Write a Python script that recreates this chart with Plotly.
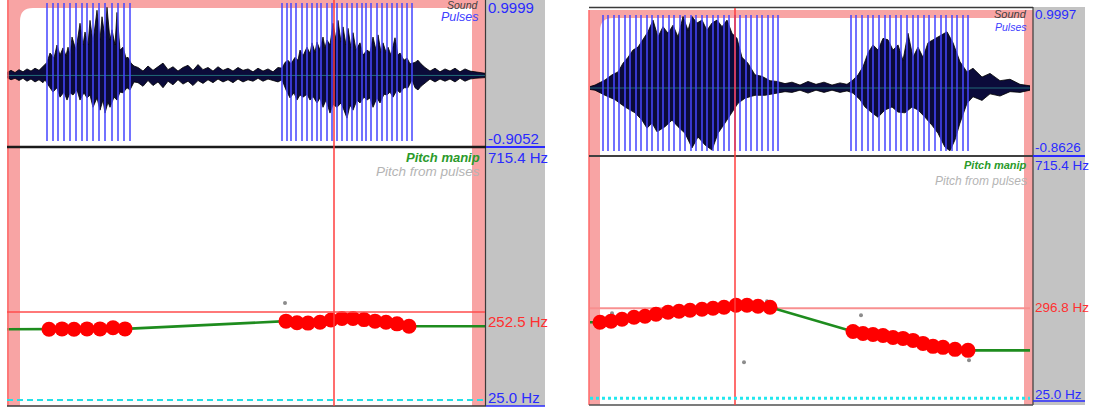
import plotly.graph_objects as go

W, H = 1097, 409

# ======================= DATA: left editor =======================
L_DUR = 478.0                      # visible time window, ms
L_AMP_MAX, L_AMP_MIN = 0.9999, -0.9052
L_HZ_AXIS = [20.0, 676.7]          # pitch axis extent (Hz)
L_HZ_FLOOR = 25.0
L_CURSOR_T = 327
L_CURSOR_HZ = 252.5

L_UP_T = [0, 4, 8, 12, 16, 20, 24, 28, 32, 36,
          40, 43, 47, 50, 53, 56, 59, 61, 63, 65, 69, 73, 76, 78, 81, 83, 86, 90, 93, 95, 98, 100, 103, 105,
          108, 110, 113, 116, 119, 121, 124, 127,
          131, 136, 141, 146, 151, 156, 161, 166, 171, 176, 181, 186, 191, 196, 201, 206, 211, 216, 221, 226,
          231, 236, 241, 246, 251, 256, 261, 266, 271,
          275, 278, 281, 284, 288, 291, 293, 296, 300, 303, 305, 308, 310, 313, 316, 318, 320, 323, 326, 329,
          331, 334, 336, 339, 341, 344, 346, 349, 353, 356, 360, 363, 366, 369, 371, 374, 376, 379, 381, 384,
          388, 391, 393, 397, 400, 403, 405, 408, 411, 414,
          418, 423, 428, 433, 438, 443, 448, 453, 458, 463, 468, 473, 478]
L_UP_A = [0.04, 0.07, 0.04, 0.08, 0.05, 0.09, 0.06, 0.10, 0.07, 0.12,
          0.18, 0.31, 0.24, 0.42, 0.28, 0.38, 0.27, 0.39, 0.28, 0.53, 0.35, 0.72, 0.42, 0.60, 0.42, 0.76, 0.46,
          0.90, 0.49, 0.81, 0.52, 0.94, 0.49, 0.63, 0.42, 0.87, 0.35, 0.39, 0.24, 0.25, 0.17, 0.13,
          0.11, 0.06, 0.13, 0.07, 0.12, 0.17, 0.08, 0.12, 0.06, 0.11, 0.14, 0.07, 0.15, 0.08, 0.11, 0.06, 0.12,
          0.07, 0.10, 0.06, 0.11, 0.07, 0.09, 0.05, 0.10, 0.06, 0.09, 0.05, 0.11,
          0.10, 0.18, 0.21, 0.16, 0.25, 0.21, 0.35, 0.27, 0.39, 0.30, 0.45, 0.32, 0.46, 0.35, 0.53, 0.38, 0.49,
          0.42, 0.72, 0.49, 0.76, 0.46, 0.67, 0.42, 0.65, 0.38, 0.59, 0.35, 0.45, 0.28, 0.35, 0.32, 0.53, 0.35,
          0.56, 0.32, 0.45, 0.32, 0.39, 0.28, 0.52, 0.28, 0.31, 0.21, 0.24, 0.16, 0.17, 0.18, 0.21, 0.16,
          0.11, 0.06, 0.10, 0.05, 0.09, 0.06, 0.10, 0.05, 0.09, 0.06, 0.05, 0.04, 0.03]
L_LO_T = [0, 4, 8, 12, 16, 20, 24, 28, 32, 36,
          38, 41, 46, 50, 53, 57, 60, 63, 66, 70, 73, 77, 80, 83, 86, 90, 93, 96, 98, 101, 103, 107, 110, 113,
          116, 120, 123, 127,
          131, 136, 141, 146, 151, 156, 161, 166, 171, 176, 181, 186, 191, 196, 201, 206, 211, 216, 221, 226,
          231, 236, 241, 246, 251, 256, 261, 266, 271,
          275, 279, 283, 287, 290, 293, 296, 300, 303, 306, 310, 313, 316, 319, 323, 326, 330, 334, 337, 340,
          343, 346, 350, 353, 357, 360, 363, 366, 370, 373, 377, 380, 383, 386, 390, 393, 397, 401, 405, 408,
          411, 414,
          418, 423, 428, 433, 438, 443, 448, 453, 458, 463, 468, 473, 478]
L_LO_A = [-0.03, -0.06, -0.04, -0.07, -0.04, -0.08, -0.05, -0.09, -0.06, -0.10,
          -0.06, -0.13, -0.23, -0.17, -0.30, -0.23, -0.34, -0.24, -0.27, -0.20, -0.34, -0.24, -0.31, -0.27,
          -0.44, -0.31, -0.48, -0.34, -0.52, -0.37, -0.44, -0.30, -0.34, -0.23, -0.24, -0.17, -0.20, -0.09,
          -0.10, -0.15, -0.07, -0.14, -0.09, -0.17, -0.08, -0.13, -0.06, -0.12, -0.08, -0.14, -0.07, -0.11,
          -0.06, -0.10, -0.05, -0.09, -0.06, -0.10, -0.05, -0.09, -0.06, -0.08, -0.04, -0.08, -0.05, -0.07, -0.09,
          -0.06, -0.20, -0.31, -0.24, -0.34, -0.27, -0.30, -0.26, -0.34, -0.29, -0.38, -0.31, -0.44, -0.34,
          -0.52, -0.40, -0.44, -0.38, -0.48, -0.59, -0.41, -0.48, -0.34, -0.38, -0.30, -0.34, -0.31, -0.44,
          -0.31, -0.38, -0.26, -0.27, -0.23, -0.30, -0.20, -0.24, -0.17, -0.17, -0.06, -0.17, -0.20, -0.15,
          -0.10, -0.05, -0.09, -0.05, -0.08, -0.05, -0.09, -0.04, -0.08, -0.05, -0.04, -0.03, -0.03]
L_PULSES = [40, 46, 51, 57, 63, 69, 75, 80, 86, 92, 98, 105, 111, 117, 123,
            275, 280, 284, 289, 295, 300, 305, 310, 314, 320, 325, 330, 335, 340, 345, 350, 355, 359, 364,
            370, 375, 380, 385, 390, 395, 400, 405]
L_PITCH_T = [42, 55, 67, 80, 93, 106, 118,
             279, 290, 301, 313, 324, 335, 346, 357, 368, 379, 390, 402]
L_PITCH_HZ = [208, 209, 208, 209, 209, 212, 209,
              229, 225, 224, 226, 232, 236, 236, 233, 229, 226, 222, 216]
L_PULSE_PITCH_T = [278]
L_PULSE_PITCH_HZ = [276]

# ======================= DATA: right editor =======================
R_DUR = 440.0
R_AMP_MAX, R_AMP_MIN = 0.9997, -0.8626
R_HZ_AXIS = [20.0, 754.0]
R_HZ_FLOOR = 25.0
R_CURSOR_T = 145
R_CURSOR_HZ = 296.8

R_UP_T = [0, 5, 15, 22, 28, 33, 38, 43, 48, 53, 58, 63, 68, 73, 78, 83, 88, 93, 98, 102,
          107, 112, 117, 122, 127, 132, 137, 142, 147, 152, 158, 165, 172, 180, 187, 195,
          202, 210, 218, 226, 234, 242, 250, 257,
          263, 268, 273, 278, 283, 288, 293, 298, 303, 308, 313, 318, 323, 328, 333, 338, 343, 348, 357,
          363, 370, 377, 383, 392, 400, 410, 420, 430, 440]
R_UP_A = [0.02, 0.04, 0.11, 0.18, 0.22, 0.34, 0.42, 0.52, 0.56, 0.66, 0.77, 0.93, 0.70, 0.84, 0.75, 0.86,
          0.70, 0.98, 0.79, 0.98, 0.89, 0.93, 0.79, 0.89, 0.93, 0.84, 0.93, 0.75, 0.68, 0.42, 0.34, 0.18,
          0.16, 0.10, 0.09, 0.06,
          0.08, 0.04, 0.09, 0.05, 0.08, 0.04, 0.07, 0.05,
          0.11, 0.18, 0.29, 0.48, 0.59, 0.52, 0.68, 0.66, 0.52, 0.59, 0.38, 0.75, 0.42, 0.56, 0.42, 0.62,
          0.66, 0.70, 0.77, 0.62, 0.36, 0.22, 0.27, 0.15, 0.20, 0.10, 0.12, 0.05, 0.03]
R_LO_T = [0, 5, 15, 25, 35, 45, 52, 57, 62, 67, 75, 82, 88, 95, 102, 108, 115, 122, 128, 135, 142, 148,
          155, 165, 175, 185, 195,
          202, 210, 218, 226, 234, 242, 250, 257,
          263, 270, 275, 282, 288, 295, 302, 308, 315, 322, 328, 335, 342, 348, 355, 360, 365, 370, 377, 383,
          392, 400, 410, 420, 430, 440]
R_LO_A = [-0.02, -0.03, -0.10, -0.16, -0.26, -0.34, -0.44, -0.55, -0.48, -0.60, -0.53, -0.44, -0.53, -0.62,
          -0.82, -0.67, -0.78, -0.85, -0.62, -0.48, -0.34, -0.21, -0.14, -0.10, -0.10, -0.07, -0.05,
          -0.06, -0.03, -0.07, -0.03, -0.06, -0.03, -0.06, -0.04,
          -0.07, -0.16, -0.26, -0.34, -0.40, -0.30, -0.26, -0.33, -0.34, -0.26, -0.30, -0.40, -0.51, -0.62,
          -0.81, -0.86, -0.71, -0.48, -0.21, -0.12, -0.17, -0.08, -0.11, -0.05, -0.06, -0.03]
R_PULSES = [13, 18, 24, 29, 35, 40, 46, 51, 57, 62, 68, 73, 79, 84, 90, 95, 101, 106, 112, 117, 123, 128,
            134, 139, 145, 150, 156, 161, 167, 172, 178, 183, 188,
            261, 266, 272, 278, 283, 289, 295, 300, 306, 311, 317, 323, 328, 334, 339, 345, 351, 356, 362,
            367, 373, 378]
R_PITCH_T = [10, 21, 32, 44, 55, 66, 78, 89, 100, 112, 123, 134, 146, 157, 168, 180,
             263, 273, 283, 293, 303, 313, 323, 333, 343, 353, 365, 378]
R_PITCH_HZ = [255, 258, 264, 270, 273, 279, 285, 288, 291, 294, 297, 300, 306, 306, 303, 300,
              227, 221, 218, 215, 209, 206, 200, 191, 182, 179, 173, 170]
R_PULSE_PITCH_T = [22, 177, 154, 271, 379]
R_PULSE_PITCH_HZ = [282, 318, 134, 276, 140]

# ---- labels ----
AMP_LABELS_L = ["0.9999", "-0.9052"]
AMP_LABELS_R = ["0.9997", "-0.8626"]
HZ_TOP_LABEL = "715.4 Hz"
HZ_BOTTOM_LABEL = "25.0 Hz"
CURSOR_LABEL_L = "252.5 Hz"
CURSOR_LABEL_R = "296.8 Hz"
NAME_SOUND, NAME_PULSES = "Sound", "Pulses"
NAME_MANIP, NAME_FROMPULSES = "Pitch manip", "Pitch from pulses"

for a, b in [(L_UP_T, L_UP_A), (L_LO_T, L_LO_A), (R_UP_T, R_UP_A), (R_LO_T, R_LO_A),
             (L_PITCH_T, L_PITCH_HZ), (R_PITCH_T, R_PITCH_HZ)]:
    assert len(a) == len(b), (len(a), len(b))


# ======================= figure =======================
def px(x):
    return x / W


def py(y):
    return 1 - y / H


WAVE_FILL = "#0b0b3a"
PULSE_COL = "rgba(70,70,255,0.85)"
PINK = "#f8a4a4"
GREEN = "#1e8c1e"

fig = go.Figure()


def add_editor(xa, ya_w, ya_p, dur, amin, amax, upt, upa, lot, loa, pulses, pt, phz, ppt, pphz):
    fig.add_trace(go.Scatter(x=upt + lot[::-1], y=upa + loa[::-1], fill="toself", fillcolor=WAVE_FILL,
                             mode="lines", line=dict(color="#000000", width=0.8),
                             xaxis=xa, yaxis=ya_w, hoverinfo="skip"))
    fig.add_trace(go.Scatter(x=[0, dur], y=[0, 0], mode="lines",
                             line=dict(color="rgba(40,140,140,0.75)", width=1),
                             xaxis=xa, yaxis=ya_w, hoverinfo="skip"))
    xs, ys = [], []
    for t in pulses:
        xs += [t, t, None]
        ys += [amin, amax, None]
    fig.add_trace(go.Scatter(x=xs, y=ys, mode="lines", line=dict(color=PULSE_COL, width=1.8),
                             xaxis=xa, yaxis=ya_w, hoverinfo="skip"))
    fig.add_trace(go.Scatter(x=[0] + pt + [dur], y=[phz[0]] + phz + [phz[-1]], mode="lines",
                             line=dict(color=GREEN, width=2.6), xaxis=xa, yaxis=ya_p, hoverinfo="skip"))
    fig.add_trace(go.Scatter(x=ppt, y=pphz, mode="markers", marker=dict(color="#8c8c8c", size=4),
                             xaxis=xa, yaxis=ya_p, hoverinfo="skip"))
    fig.add_trace(go.Scatter(x=pt, y=phz, mode="markers",
                             marker=dict(color="#ff0000", size=15, line=dict(width=0)),
                             xaxis=xa, yaxis=ya_p, hoverinfo="skip"))


add_editor("x", "y", "y2", L_DUR, L_AMP_MIN, L_AMP_MAX, L_UP_T, L_UP_A, L_LO_T, L_LO_A, L_PULSES,
           L_PITCH_T, L_PITCH_HZ, L_PULSE_PITCH_T, L_PULSE_PITCH_HZ)
add_editor("x2", "y3", "y4", R_DUR, R_AMP_MIN, R_AMP_MAX, R_UP_T, R_UP_A, R_LO_T, R_LO_A, R_PULSES,
           R_PITCH_T, R_PITCH_HZ, R_PULSE_PITCH_T, R_PULSE_PITCH_HZ)

ax_common = dict(visible=False, showgrid=False, zeroline=False, fixedrange=True)
fig.update_layout(
    xaxis=dict(domain=[px(7), px(485)], range=[0, L_DUR], anchor="y", **ax_common),
    yaxis=dict(domain=[py(141), py(3)], range=[L_AMP_MIN, L_AMP_MAX], anchor="x", **ax_common),
    yaxis2=dict(domain=[py(402), py(148)], range=L_HZ_AXIS, anchor="x", **ax_common),
    xaxis2=dict(domain=[px(590), px(1030)], range=[0, R_DUR], anchor="y3", **ax_common),
    yaxis3=dict(domain=[py(151), py(15)], range=[R_AMP_MIN, R_AMP_MAX], anchor="x2", **ax_common),
    yaxis4=dict(domain=[py(400), py(157)], range=R_HZ_AXIS, anchor="x2", **ax_common),
)

shapes = []


def prect(x0, y0, x1, y1, color, layer="below"):
    shapes.append(dict(type="rect", xref="paper", yref="paper", x0=px(x0), x1=px(x1), y0=py(y1), y1=py(y0),
                       fillcolor=color, line=dict(width=0), layer=layer))


def pline(x0, y0, x1, y1, color, width, layer="above", dash="solid"):
    shapes.append(dict(type="line", xref="paper", yref="paper", x0=px(x0), x1=px(x1), y0=py(y0), y1=py(y1),
                       line=dict(color=color, width=width, dash=dash), layer=layer))


def fillet(cx, cy, r, color):
    path = (f"M {px(cx)},{py(cy + r)} Q {px(cx)},{py(cy)} {px(cx + r)},{py(cy)} "
            f"L {px(cx)},{py(cy)} Z")
    shapes.append(dict(type="path", xref="paper", yref="paper", path=path, fillcolor=color,
                       line=dict(width=0), layer="below"))


# ---- left editor frame ----
prect(486, 0, 545, 406, "#c3c3c3")
prect(7, 0, 486, 8, PINK)
prect(7, 0, 20, 406, PINK)
prect(472, 0, 486, 406, PINK)
fillet(20, 8, 13, PINK)
pline(8, 0, 8, 406, "#ff6a6a", 1.5)
pline(485.5, 0, 485.5, 406, "#3a3a3a", 1.2)
pline(7, 147, 486, 147, "#1a1a1a", 2.5)
pline(7, 406, 486, 406, "#3a3a3a", 1.5)
pline(486, 147, 545, 147, "#2a2aff", 2)
pline(486, 406, 545, 406, "#2a2aff", 1.5)

# ---- right editor frame ----
prect(1033, 7, 1085, 405, "#c3c3c3")
prect(589, 10, 1033, 18, PINK)
prect(589, 10, 600, 405, PINK)
prect(1024, 10, 1033, 405, PINK)
fillet(600, 18, 13, PINK)
pline(589, 10, 589, 405, "#ff6a6a", 1.5)
pline(589, 7.5, 1033, 7.5, "#3a3a3a", 1.5)
pline(1033, 7, 1033, 405, "#3a3a3a", 1.2)
pline(589, 156, 1033, 156, "#404040", 2)
pline(589, 405, 1033, 405, "#505050", 1.5)
pline(1033, 156, 1085, 156, "#2a2aff", 2)
pline(1033, 401, 1085, 401, "#2a2aff", 1.5)

# ---- data-referenced cursor lines ----
shapes.append(dict(type="line", xref="x", yref="paper", x0=L_CURSOR_T, x1=L_CURSOR_T, y0=py(406), y1=1,
                   line=dict(color="#ff3c3c", width=1.5), layer="above"))
shapes.append(dict(type="line", xref="x", yref="y2", x0=0, x1=L_DUR, y0=L_CURSOR_HZ, y1=L_CURSOR_HZ,
                   line=dict(color="#ff4c4c", width=1.5), layer="above"))
shapes.append(dict(type="line", xref="x", yref="y2", x0=0, x1=L_DUR, y0=L_HZ_FLOOR, y1=L_HZ_FLOOR,
                   line=dict(color="#22e2e8", width=2, dash="6px,4px"), layer="above"))
shapes.append(dict(type="line", xref="x2", yref="paper", x0=R_CURSOR_T, x1=R_CURSOR_T, y0=py(405), y1=py(8),
                   line=dict(color="#ff3c3c", width=1.5), layer="above"))
shapes.append(dict(type="line", xref="x2", yref="y4", x0=0, x1=R_DUR, y0=R_CURSOR_HZ, y1=R_CURSOR_HZ,
                   line=dict(color="#f89090", width=2), layer="below"))
shapes.append(dict(type="line", xref="x2", yref="y4", x0=0, x1=R_DUR, y0=R_HZ_FLOOR, y1=R_HZ_FLOOR,
                   line=dict(color="#22e8ee", width=3, dash="3px,3px"), layer="above"))

fig.update_layout(shapes=shapes)

FONT = "Liberation Sans, Arial, sans-serif"
anns = []


def label(text, x, y, color, size=13, anchor="left"):
    anns.append(dict(text=text, x=px(x), y=py(y), xref="paper", yref="paper", xanchor=anchor, yanchor="middle",
                     showarrow=False, font=dict(family=FONT, size=size, color=color)))


BLUE = "#2a2aff"
# left
label(AMP_LABELS_L[0], 486, 7, BLUE, 15)
label(AMP_LABELS_L[1], 486, 139, BLUE, 15)
label(HZ_TOP_LABEL, 486, 157, BLUE, 15)
label(CURSOR_LABEL_L, 486, 321, "#ff3030", 15)
label(HZ_BOTTOM_LABEL, 486, 397, BLUE, 15)
label(f"<i>{NAME_SOUND}</i>", 481, 5, "#404040", 10.5, "right")
label(f"<i>{NAME_PULSES}</i>", 481, 17, "#4040ff", 12.5, "right")
label(f"<b><i>{NAME_MANIP}</i></b>", 482, 157, "#2a9a2a", 13, "right")
label(f"<i>{NAME_FROMPULSES}</i>", 482, 172, "#b4b4b4", 13.5, "right")
# right
label(AMP_LABELS_R[0], 1033, 14, BLUE, 13.5)
label(AMP_LABELS_R[1], 1033, 147, BLUE, 13.5)
label(HZ_TOP_LABEL, 1033, 165, BLUE, 13.5)
label(CURSOR_LABEL_R, 1033, 307, "#ff3030", 13.5)
label(HZ_BOTTOM_LABEL, 1033, 394, BLUE, 13.5)
label(f"<i>{NAME_SOUND}</i>", 1029, 14, "#404040", 11, "right")
label(f"<i>{NAME_PULSES}</i>", 1029, 27, "#4040ff", 10.5, "right")
label(f"<b><i>{NAME_MANIP}</i></b>", 1029, 165, "#2a9a2a", 11, "right")
label(f"<i>{NAME_FROMPULSES}</i>", 1029, 181, "#b4b4b4", 12, "right")

fig.update_layout(
    annotations=anns,
    width=W, height=H,
    margin=dict(l=0, r=0, t=0, b=0),
    paper_bgcolor="white",
    plot_bgcolor="rgba(0,0,0,0)",
    showlegend=False,
)

fig.write_html("out.html", config={"displayModeBar": False},
               post_script="document.body.style.margin='0';document.body.style.overflow='hidden';")
